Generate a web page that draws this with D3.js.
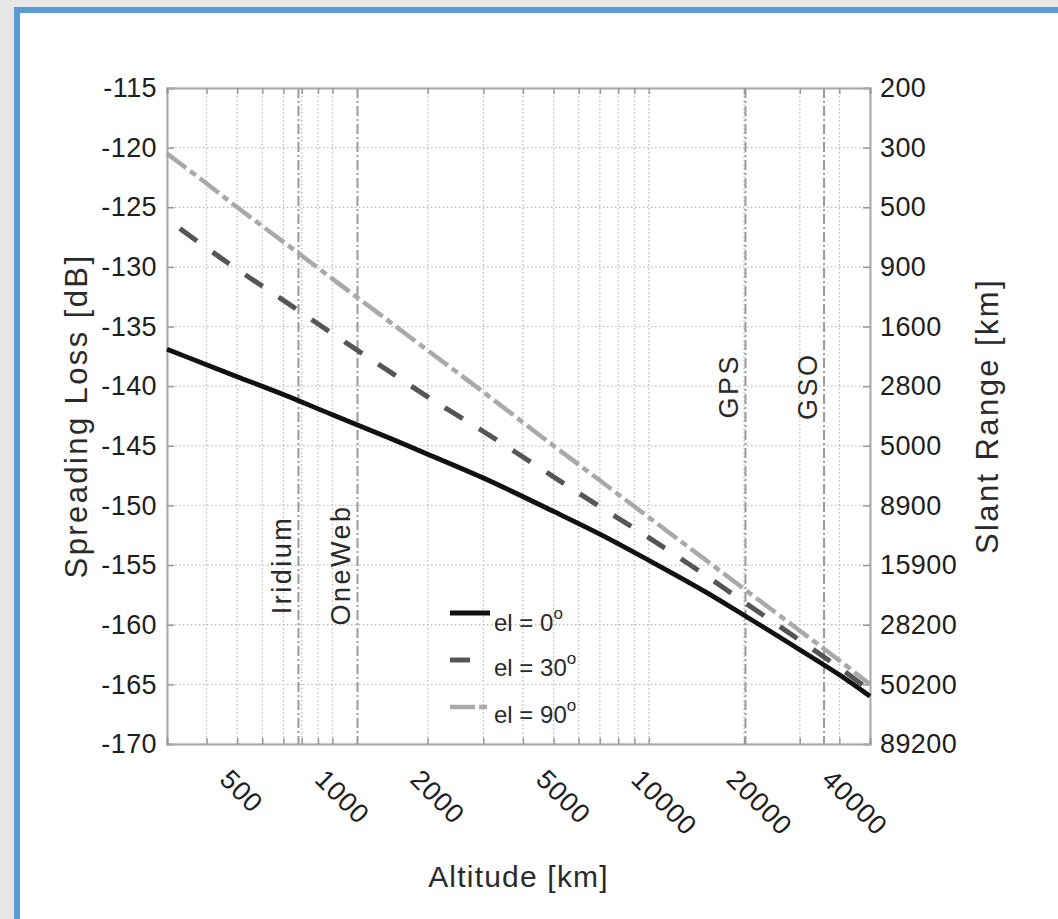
<!DOCTYPE html>
<html>
<head>
<meta charset="utf-8">
<script src="https://cdn.jsdelivr.net/npm/d3@7"></script>
<style>
body { margin: 0; background: #e6e6e6; }
svg { display: block; font-family: "Liberation Sans", Arial, Helvetica, sans-serif; }
</style>
</head>
<body>
<svg id="chart"></svg>
<script>
var W = 1058, H = 919;

// Data
var altitude = [300, 400, 500, 700, 1000, 1500, 2000, 3000, 5000, 7000, 10000, 15000, 20000, 30000, 40000, 50000];
var loss_el0 = [-136.9, -138.2, -139.2, -140.7, -142.4, -144.3, -145.7, -147.7, -150.5, -152.4, -154.6, -157.2, -159.2, -162.1, -164.2, -166.0];
var loss_el30 = [-126.0, -128.4, -130.2, -132.8, -135.6, -138.7, -140.9, -143.8, -147.6, -150.1, -152.7, -155.8, -158.1, -161.3, -163.6, -165.5];
var loss_el90 = [-120.5, -123.0, -125.0, -127.9, -131.0, -134.5, -137.0, -140.5, -145.0, -147.9, -151.0, -154.5, -157.0, -160.5, -163.0, -165.0];
var seriesLabels = ["el = 0", "el = 30", "el = 90"];

var lossTicks = [-115, -120, -125, -130, -135, -140, -145, -150, -155, -160, -165, -170];
var slantTicks = ["200", "300", "500", "900", "1600", "2800", "5000", "8900", "15900", "28200", "50200", "89200"];
var altTicks = [500, 1000, 2000, 5000, 10000, 20000, 40000];

var orbitNames = ["Iridium", "OneWeb", "GPS", "GSO"];
var orbitAlt = [781, 1200, 20200, 35786];
var orbitLabelLoss = [-155, -155, -140, -140];

var margin = {left: 167, right: W - 870, top: 88, bottom: H - 744};
var pw = W - margin.left - margin.right,
    ph = H - margin.top - margin.bottom;

var svg = d3.select("#chart")
.attr("width", W)
.attr("height", H);

// page frame
svg.append("rect")
.attr("x", 0).attr("y", 0).attr("width", W).attr("height", H)
.attr("fill", "#e6e6e6");
svg.append("rect")
.attr("x", 17).attr("y", 10).attr("width", W + 40).attr("height", H + 40)
.attr("fill", "#fff")
.attr("stroke", "#5b9bd5")
.attr("stroke-width", 6);

var g = svg.append("g")
.attr("transform", "translate(" + margin.left + "," + margin.top + ")");

var x = d3.scaleLog().domain([300, 50000]).range([0, pw]);
var y = d3.scaleLinear().domain([-170, -115]).range([ph, 0]);

var gridColor = "#bdbdbd";

// grid
g.append("g")
.selectAll("line")
.data(x.ticks())
.join("line")
.attr("x1", function (d) { return x(d); })
.attr("x2", function (d) { return x(d); })
.attr("y1", 0)
.attr("y2", ph)
.attr("stroke", gridColor)
.attr("stroke-width", 1.3)
.attr("stroke-dasharray", "1.5,2.5");

g.append("g")
.selectAll("line")
.data(lossTicks)
.join("line")
.attr("x1", 0)
.attr("x2", pw)
.attr("y1", function (d) { return y(d); })
.attr("y2", function (d) { return y(d); })
.attr("stroke", gridColor)
.attr("stroke-width", 1.3)
.attr("stroke-dasharray", "1.5,2.5");

// orbit markers
g.append("g")
.selectAll("line")
.data(orbitAlt)
.join("line")
.attr("x1", function (d) { return x(d); })
.attr("x2", function (d) { return x(d); })
.attr("y1", 0)
.attr("y2", ph)
.attr("stroke", "#9a9a9a")
.attr("stroke-width", 2)
.attr("stroke-dasharray", "10,3,2,3");

g.append("g")
.selectAll("text")
.data(orbitNames)
.join("text")
.attr("transform", function (d, i) {
    return "translate(" + (x(orbitAlt[i]) - 7) + "," + y(orbitLabelLoss[i]) + ") rotate(-90)";
})
.attr("text-anchor", "middle")
.attr("font-size", 27)
.attr("letter-spacing", 2.5)
.attr("fill", "#2a2a2a")
.text(function (d) { return d; });

// axes
var axisColor = "#a8a8a8";

var axLeft = g.append("g").call(d3.axisLeft(y).tickValues(lossTicks).tickSize(-7).tickPadding(10)
.tickFormat(function (d) { return String(d); }));
var axRight = g.append("g").attr("transform", "translate(" + pw + ",0)")
.call(d3.axisRight(y).tickValues(lossTicks).tickSize(-7).tickPadding(10)
.tickFormat(function (d, i) { return slantTicks[i]; }));
var axBottom = g.append("g").attr("transform", "translate(0," + ph + ")")
.call(d3.axisBottom(x).tickValues(x.ticks()).tickSize(-6).tickFormat(""));
var axTop = g.append("g")
.call(d3.axisTop(x).tickValues(x.ticks()).tickSize(-6).tickFormat(""));

[axLeft, axRight, axBottom, axTop].forEach(function (a) {
    a.select(".domain").attr("stroke", axisColor).attr("stroke-width", 2);
    a.selectAll(".tick line").attr("stroke", "#999").attr("stroke-width", 1.5);
    a.selectAll("text").attr("font-size", 27).attr("letter-spacing", 0.4)
    .attr("fill", "#1e1e1e").attr("font-family", null);
});

// rotated altitude labels
g.append("g")
.selectAll("text")
.data(altTicks)
.join("text")
.attr("transform", function (d) { return "translate(" + (x(d) - 19) + "," + (ph + 37) + ") rotate(45)"; })
.attr("font-size", 27)
.attr("letter-spacing", 0.8)
.attr("fill", "#1e1e1e")
.text(function (d) { return d; });

// curves
var series = [
    {name: seriesLabels[0], values: loss_el0, color: "#111", width: 4.8, dash: null, offset: 0},
    {name: seriesLabels[1], values: loss_el30, color: "#555", width: 5, dash: "21,19", offset: 24},
    {name: seriesLabels[2], values: loss_el90, color: "#a9a9a9", width: 4.5, dash: "24,5,7,5", offset: 0}
];

var line = d3.line()
.x(function (d, i) { return x(altitude[i]); })
.y(function (d) { return y(d); })
.curve(d3.curveCatmullRom.alpha(0.5));

g.append("g")
.selectAll("path")
.data(series)
.join("path")
.attr("d", function (d) { return line(d.values); })
.attr("fill", "none")
.attr("stroke", function (d) { return d.color; })
.attr("stroke-width", function (d) { return d.width; })
.attr("stroke-dasharray", function (d) { return d.dash; })
.attr("stroke-dashoffset", function (d) { return d.offset; });

// legend
var legend = svg.append("g").attr("transform", "translate(450,613)");
var item = legend.selectAll("g")
.data(series)
.join("g")
.attr("transform", function (d, i) { return "translate(0," + (i * 47) + ")"; });

item.append("line")
.attr("x1", 0).attr("x2", function (d, i) { return i === 1 ? 20 : (i === 2 ? 37 : 40); })
.attr("y1", 0).attr("y2", 0)
.attr("stroke", function (d) { return d.color; })
.attr("stroke-width", function (d) { return d.width; })
.attr("stroke-dasharray", function (d, i) { return i === 2 ? "25,4,8" : null; });

var lt = item.append("text")
.attr("x", 44)
.attr("y", function (d, i) { return i === 0 ? 18 : 16; })
.attr("font-size", 24)
.attr("fill", "#2a2a2a");
lt.append("tspan").text(function (d) { return d.name; });
lt.append("tspan").attr("dy", -12).attr("font-size", 17).text("o");

// axis titles
svg.append("text")
.attr("transform", "translate(" + 87 + "," + (margin.top + ph / 2) + ") rotate(-90)")
.attr("text-anchor", "middle")
.attr("font-size", 31)
.attr("letter-spacing", 2.4)
.attr("fill", "#2a2a2a")
.text("Spreading Loss [dB]");

svg.append("text")
.attr("transform", "translate(" + 998 + "," + (margin.top + ph / 2) + ") rotate(-90)")
.attr("text-anchor", "middle")
.attr("font-size", 31)
.attr("letter-spacing", 2.4)
.attr("fill", "#2a2a2a")
.text("Slant Range [km]");

svg.append("text")
.attr("x", margin.left + pw / 2)
.attr("y", 887)
.attr("text-anchor", "middle")
.attr("font-size", 30)
.attr("letter-spacing", 1.2)
.attr("fill", "#2a2a2a")
.text("Altitude [km]");
</script>
</body>
</html>
